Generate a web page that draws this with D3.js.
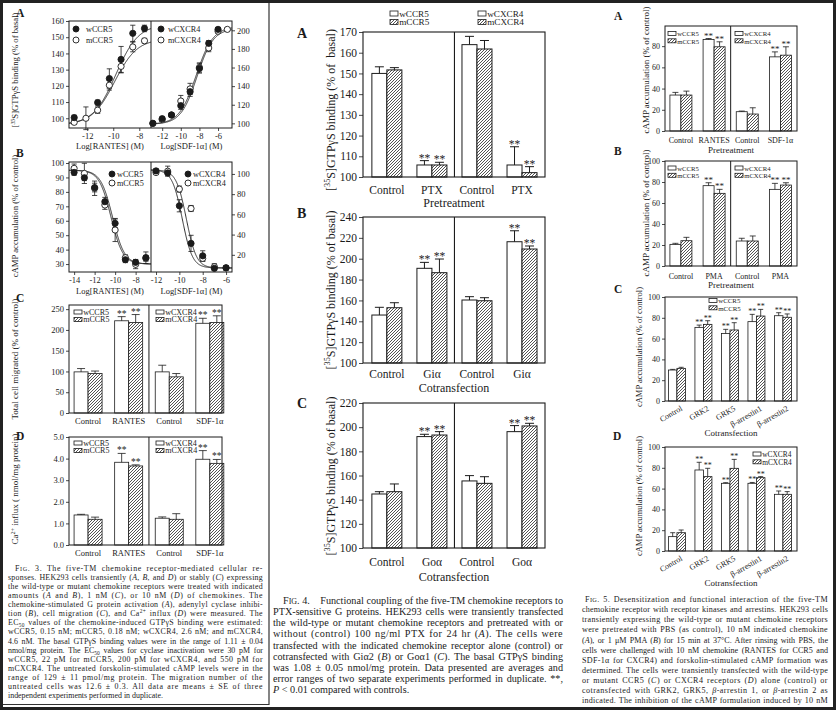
<!DOCTYPE html>
<html><head><meta charset="utf-8">
<script src="https://cdn.jsdelivr.net/npm/d3@7"></script>
<style>
body{margin:0;background:#fff}
svg{display:block}
text{font-family:"Liberation Serif","Times New Roman",serif;fill:#1b1b1b}
</style></head>
<body><svg id="c" width="836" height="710"></svg>
<script>
// ================= DATA =================
// Fig 3A: GTPγS binding vs log[chemokine]
const f3A_rantesW_x = [-13, -11.2, -10.3, -9.4, -8.5, -7.6];
const f3A_rantesW_y = [100.4, 109.7, 124.5, 136.3, 152.4, 155.4];
const f3A_rantesW_e = [1.5, 1.5, 6, 8, 5, 2];
const f3A_rantesM_x = [-13, -12.1, -11.2, -10.3, -9.4, -8.5, -7.6];
const f3A_rantesM_y = [97.5, 100, 105, 120.4, 132, 144, 147.8];
const f3A_rantesM_e = [1, 7, 2, 3, 4, 3, 1.5];
const f3A_sdfW_x = [-13, -12, -11, -10, -9, -8, -7, -6];
const f3A_sdfW_y = [100, 105, 109, 119, 134, 159, 186, 201];
const f3A_sdfW_e = [1, 1.5, 2, 4, 5, 5, 3, 2];
const f3A_sdfM_x = [-13, -12, -11, -10, -9, -8, -7, -6, -5];
const f3A_sdfM_y = [100, 104, 109, 124, 137, 160, 181, 199, 201];
const f3A_sdfM_e = [1, 2, 2, 6, 6, 5, 4, 2, 2];
// fitted curve parameters [bottom, top, logEC50, hill]
const f3A_fitRantesW = [96, 158, -9.8, 0.5];
const f3A_fitRantesM = [96, 149, -9.9, 0.5];
const f3A_fitSdfW = [99, 204, -8.35, 0.48];
const f3A_fitSdfM = [99, 202, -8.25, 0.5];

// Fig 3B: cAMP accumulation vs log[chemokine]
const f3B_rantesW_x = [-14, -13, -12, -11, -10, -9, -8, -7];
const f3B_rantesW_y = [93.5, 89.8, 83, 73.2, 58.2, 33, 31.2, 34.4];
const f3B_rantesW_e = [2, 2, 3, 3, 3, 2, 2, 4];
const f3B_rantesM_x = [-14, -13, -12, -11, -10, -9, -8, -7];
const f3B_rantesM_y = [96.3, 92.8, 82.5, 70.9, 53.6, 34.4, 29.8, 34];
const f3B_rantesM_e = [3, 7, 5, 3, 8, 2, 3, 2];
const f3B_sdfW_x = [-12, -11, -10, -9, -8, -7, -6];
const f3B_sdfW_y = [103, 101, 68.5, 31.3, 19, 6.6, 7];
const f3B_sdfW_e = [2, 2, 6, 8, 5, 2, 2];
const f3B_sdfM_x = [-12, -11, -10, -9, -8, -7, -6];
const f3B_sdfM_y = [101.4, 102.7, 85, 65.8, 16.5, 8.2, 7.2];
const f3B_sdfM_e = [2, 5, 3, 3, 3, 3, 2];
const f3B_fitRantesW = [30, 95, -10.25, -0.75];
const f3B_fitRantesM = [30, 95, -10.4, -0.75];
const f3B_fitSdfW = [7, 104, -9.75, -1.0];
const f3B_fitSdfM = [7, 104, -9.4, -1.0];

// Fig 3C / 3D
const f3C_cats = ["Control", "RANTES", "Control", "SDF-1α"];
const f3C_w = [99, 222, 99, 216], f3C_wErr = [8, 10, 16, 12];
const f3C_m = [95, 218, 87, 218], f3C_mErr = [6, 19, 8, 16];
const f3D_w = [1.39, 3.83, 1.24, 3.97], f3D_wErr = [0.03, 0.41, 0.06, 0.4];
const f3D_m = [1.19, 3.66, 1.19, 3.78], f3D_mErr = [0.1, 0.05, 0.26, 0.18];
const f3_sig = ["", "**", "", "**"];

// Fig 4
const f4A_cats = ["Control", "PTX", "Control", "PTX"];
const f4A_w = [150, 105.8, 163.9, 105.8], f4A_wErr = [3.2, 2.1, 4, 8.8];
const f4A_m = [151.7, 105.8, 161.8, 102.1], f4A_mErr = [1.1, 1.3, 4.1, 2.9];
const f4A_sig = ["", "**", "", "**"];
const f4B_cats = ["Control", "Giα", "Control", "Giα"];
const f4B_w = [146, 190.8, 160.4, 216.3], f4B_wErr = [7.4, 5.7, 3.2, 10.5];
const f4B_m = [153, 186.6, 159.7, 209.3], f4B_mErr = [4.8, 13.1, 2.9, 2.9];
const f4C_cats = ["Control", "Goα", "Control", "Goα"];
const f4C_w = [144.7, 192.2, 155.5, 196.3], f4C_wErr = [1.9, 1.9, 4.4, 5];
const f4C_m = [146.6, 193.5, 153.5, 201], f4C_mErr = [6.4, 2.8, 5.5, 2.2];

// Fig 5
const f5A_cats = ["Control", "RANTES", "Control", "SDF-1α"];
const f5A_w = [33.9, 86.3, 18.2, 69.9], f5A_wErr = [2.5, 0.9, 0.6, 4.7];
const f5A_m = [33.9, 79.4, 16, 71.5], f5A_mErr = [3.7, 4.7, 5.9, 7.9];
const f5B_cats = ["Control", "PMA", "Control", "PMA"];
const f5B_w = [20.6, 76.5, 23.8, 73], f5B_wErr = [1, 2.8, 2.6, 5.7];
const f5B_m = [24.1, 69.2, 23.8, 77.1], f5B_mErr = [3.2, 3.8, 4.8, 2.2];
const f5_sig4 = ["", "**", "", "**"];
const f5C_cats = ["Control", "GRK2", "GRK5", "β-arrestin1", "β-arrestin2"];
const f5C_w = [29.8, 70.8, 65, 76.3, 82], f5C_wErr = [0.6, 2.2, 3.9, 7, 2.9];
const f5C_m = [31.4, 73.7, 68.3, 81.7, 80.5], f5C_mErr = [1, 3.5, 7, 6.4, 3.2];
const f5D_w = [13.8, 77.9, 65.1, 65.1, 54.5], f5D_wErr = [3.8, 7.4, 0.6, 0.8, 3.2];
const f5D_m = [17.6, 71.5, 79.5, 70.5, 54.5], f5D_mErr = [2.6, 8, 8.6, 1, 2.6];
const f5_sig5 = ["", "**", "**", "**", "**"];

const legCCR5 = ["wCCR5", "mCCR5"];
const legCXCR4 = ["wCXCR4", "mCXCR4"];

// captions
const cap3 = [
 "F{sc:IG}. 3. The five-TM chemokine receptor-mediated cellular re-",
 "sponses. HEK293 cells transiently ({i:A}, {i:B}, and {i:D}) or stably ({i:C}) expressing",
 "the wild-type or mutant chemokine receptors were treated with indicated",
 "amounts ({i:A} and {i:B}), 1 nM ({i:C}), or 10 nM ({i:D}) of chemokines. The",
 "chemokine-stimulated G protein activation ({i:A}), adenylyl cyclase inhibi-",
 "tion ({i:B}), cell migration ({i:C}), and Ca{sup:2+} influx ({i:D}) were measured. The",
 "EC{sub:50} values of the chemokine-induced GTPγS binding were estimated:",
 "wCCR5, 0.15 nM; mCCR5, 0.18 nM; wCXCR4, 2.6 nM; and mCXCR4,",
 "4.6 nM. The basal GTPγS binding values were in the range of 1.11 ± 0.04",
 "nmol/mg protein. The EC{sub:50} values for cyclase inactivation were 30 pM for",
 "wCCR5, 22 pM for mCCR5, 200 pM for wCXCR4, and 550 pM for",
 "mCXCR4. The untreated forskolin-stimulated cAMP levels were in the",
 "range of 129 ± 11 pmol/mg protein. The migration number of the",
 "untreated cells was 12.6 ± 0.3. All data are means ± SE of three",
 "independent experiments performed in duplicate."];
const cap4 = [
 "F{sc:IG}. 4.    Functional coupling of the five-TM chemokine receptors to",
 "PTX-sensitive G proteins. HEK293 cells were transiently transfected",
 "the wild-type or mutant chemokine receptors and pretreated with or",
 "without (control) 100 ng/ml PTX for 24 hr ({i:A}). The cells were",
 "transfected with the indicated chemokine receptor alone (control) or",
 "cotransfected with Giα2 ({i:B}) or Goα1 ({i:C}). The basal GTPγS binding",
 "was 1.08 ± 0.05 nmol/mg protein. Data presented are averages and",
 "error ranges of two separate experiments performed in duplicate. **,",
 "{i:P} < 0.01 compared with controls."];
const cap5 = [
 "F{sc:IG}. 5. Desensitization and functional interaction of the five-TM",
 "chemokine receptor with receptor kinases and arrestins. HEK293 cells",
 "transiently expressing the wild-type or mutant chemokine receptors",
 "were pretreated with PBS (as control), 10 nM indicated chemokine",
 "({i:A}), or 1 μM PMA ({i:B}) for 15 min at 37°C. After rinsing with PBS, the",
 "cells were challenged with 10 nM chemokine (RANTES for CCR5 and",
 "SDF-1α for CXCR4) and forskolin-stimulated cAMP formation was",
 "determined. The cells were transiently transfected with the wild-type",
 "or mutant CCR5 ({i:C}) or CXCR4 receptors ({i:D}) alone (control) or",
 "cotransfected with GRK2, GRK5, {i:β}-arrestin 1, or {i:β}-arrestin 2 as",
 "indicated. The inhibition of the cAMP formulation induced by 10 nM"];

// ================= DRAWING =================
const INK = "#1b1b1b";
const svg = d3.select("#c");
svg.append("rect").attr("width", 836).attr("height", 710).attr("fill", "#fff");
const defs = svg.append("defs");
const pat = defs.append("pattern").attr("id", "hatch").attr("patternUnits", "userSpaceOnUse")
  .attr("width", 3).attr("height", 3);
pat.append("rect").attr("width", 3).attr("height", 3).attr("fill", "#fff");
pat.append("path").attr("d", "M-0.75,0.75 L0.75,-0.75 M0,3 L3,0 M2.25,3.75 L3.75,2.25")
  .attr("stroke", INK).attr("stroke-width", 0.75);

function rich(sel, str, size) {
  const re = /\{(i|sup|sub|sc):([^}]*)\}/g;
  let last = 0, m; const parts = [];
  while ((m = re.exec(str))) {
    if (m.index > last) parts.push({ t: "n", s: str.slice(last, m.index) });
    parts.push({ t: m[1], s: m[2] }); last = re.lastIndex;
  }
  if (last < str.length) parts.push({ t: "n", s: str.slice(last) });
  let cur = 0;
  parts.forEach(p => {
    const ts = sel.append("tspan").text(p.s);
    let target = 0;
    if (p.t === "sup") { target = -0.38 * size; ts.attr("font-size", size * 0.68); }
    else if (p.t === "sub") { target = 0.25 * size; ts.attr("font-size", size * 0.68); }
    else if (p.t === "sc") ts.attr("font-size", size * 0.78);
    else if (p.t === "i") ts.attr("font-style", "italic");
    if (target !== cur) { ts.attr("dy", target - cur); cur = target; }
  });
}
function T(g, x, y, str, size, o = {}) {
  const t = g.append("text").attr("x", x).attr("y", y).attr("font-size", size).style("white-space", "pre");
  if (o.anchor) t.attr("text-anchor", o.anchor);
  if (o.weight) t.attr("font-weight", o.weight);
  if (o.rotate != null) t.attr("transform", `rotate(${o.rotate},${x},${y})`);
  rich(t, str, size);
  return t;
}
function styleAxis(a, font) {
  a.attr("font-size", font).attr("font-family", null);
  a.select(".domain").remove();
  a.selectAll("line").attr("stroke", INK).attr("stroke-width", 0.8);
  a.selectAll("text").attr("fill", INK);
}
function hill(p, x) { return p[0] + (p[1] - p[0]) / (1 + Math.pow(10, (p[2] - x) * p[3])); }

let clipN = 0;
function curveSub(c) {
  const g = svg.append("g");
  const x = d3.scaleLinear().domain(c.xDomain).range([c.x0, c.x1]);
  const y = d3.scaleLinear().domain(c.yDomain).range([c.y1, c.y0]);
  const id = "clip" + (clipN++);
  defs.append("clipPath").attr("id", id).append("rect")
    .attr("x", c.x0).attr("y", c.y0).attr("width", c.x1 - c.x0).attr("height", c.y1 - c.y0);
  const grid = d3.range(c.xDomain[0], c.xDomain[1] + 0.02, 0.02);
  c.fits.forEach(p => g.append("path")
    .attr("d", d3.line().x(v => x(v)).y(v => y(hill(p, v)))(grid))
    .attr("fill", "none").attr("stroke", INK).attr("stroke-width", 0.9).attr("clip-path", `url(#${id})`));
  c.series.forEach(S => S.x.forEach((xv, i) => {
    const cx = x(xv), lo = y(S.y[i] - S.e[i]), hi = y(S.y[i] + S.e[i]);
    g.append("line").attr("x1", cx).attr("x2", cx).attr("y1", lo).attr("y2", hi).attr("stroke", INK).attr("stroke-width", 0.8);
    [lo, hi].forEach(yy => g.append("line").attr("x1", cx - 2.6).attr("x2", cx + 2.6).attr("y1", yy).attr("y2", yy).attr("stroke", INK).attr("stroke-width", 0.8));
  }));
  c.series.forEach(S => S.x.forEach((xv, i) => g.append("circle")
    .attr("cx", x(xv)).attr("cy", y(S.y[i])).attr("r", 3.1)
    .attr("fill", S.filled ? INK : "#fff").attr("stroke", INK).attr("stroke-width", 0.9)));
  const ya = (c.side === "left" ? d3.axisLeft(y) : d3.axisRight(y)).tickValues(c.yTicks).tickSize(3).tickPadding(2);
  styleAxis(g.append("g").attr("transform", `translate(${c.side === "left" ? c.x0 : c.x1},0)`).call(ya), 8.5);
  const xa = d3.axisBottom(x).tickValues(c.xTicks).tickFormat(d => String(d)).tickSize(3).tickPadding(2);
  styleAxis(g.append("g").attr("transform", `translate(0,${c.y1})`).call(xa), 8.5);
  T(g, (c.x0 + c.x1) / 2, c.y1 + c.xTitleDy, c.xTitle, 8.5, { anchor: "middle" });
  c.legend.labels.forEach((s, i) => {
    const L = c.legend;
    g.append("circle").attr("cx", L.x).attr("cy", L.y + i * L.dy).attr("r", 3)
      .attr("fill", i === 0 ? INK : "#fff").attr("stroke", INK).attr("stroke-width", 0.9);
    T(g, L.x + L.gap, L.y + i * L.dy + 3, s, 8.2);
  });
}
function frame(x0, y0, x1, y1, xd, w) {
  svg.append("rect").attr("x", x0).attr("y", y0).attr("width", x1 - x0).attr("height", y1 - y0)
    .attr("fill", "none").attr("stroke", INK).attr("stroke-width", w);
  if (xd) svg.append("line").attr("x1", xd).attr("x2", xd).attr("y1", y0).attr("y2", y1).attr("stroke", INK).attr("stroke-width", w);
}

function legendBoxes(g, L) {
  L.labels.forEach((s, i) => {
    const by = L.y + i * L.dy;
    g.append("rect").attr("x", L.x).attr("y", by).attr("width", L.bw).attr("height", L.bh)
      .attr("fill", i === 0 ? "#fff" : "url(#hatch)").attr("stroke", INK).attr("stroke-width", 0.8);
    T(g, L.x + L.bw + 1.2, by + L.bh + 0.8, s, L.font);
  });
}

function barPanel(c) {
  const [x0, y0, x1, y1] = c.frame;
  const g = svg.append("g");
  const y = d3.scaleLinear().domain(c.yDomain).range([y1, y0]);
  const n = c.cats.length;
  const step = (x1 - x0) / (n - 1 + c.padL + c.padR);
  const x = d3.scalePoint().domain(d3.range(n)).range([x0 + c.padL * step, x1 - c.padR * step]);
  const series = [
    { v: c.w, e: c.we, s: c.sig, off: -c.bw, fill: "#fff" },
    { v: c.m, e: c.me, s: c.sig, off: 0, fill: "url(#hatch)" }];
  series.forEach(S => S.v.forEach((v, i) => {
    const bx = x(i) + S.off, cx = bx + c.bw / 2, top = y(v), et = y(v + S.e[i]);
    g.append("rect").attr("x", bx).attr("y", top).attr("width", c.bw).attr("height", y1 - top)
      .attr("fill", S.fill).attr("stroke", INK).attr("stroke-width", c.lw);
    g.append("line").attr("x1", cx).attr("x2", cx).attr("y1", top).attr("y2", et).attr("stroke", INK).attr("stroke-width", c.lw);
    g.append("line").attr("x1", cx - c.cap / 2).attr("x2", cx + c.cap / 2).attr("y1", et).attr("y2", et).attr("stroke", INK).attr("stroke-width", c.lw);
    if (S.s[i]) T(g, cx, et - c.starGap, S.s[i], c.starSize, { anchor: "middle" });
  }));
  g.append("rect").attr("x", x0).attr("y", y0).attr("width", x1 - x0).attr("height", y1 - y0)
    .attr("fill", "none").attr("stroke", INK).attr("stroke-width", c.fw);
  if (c.divider) {
    const dx = (x(n / 2 - 1) + x(n / 2)) / 2;
    g.append("line").attr("x1", dx).attr("x2", dx).attr("y1", y0).attr("y2", y1).attr("stroke", INK).attr("stroke-width", c.fw);
  }
  styleAxis(g.append("g").attr("transform", `translate(${x0},0)`)
    .call(d3.axisLeft(y).tickValues(c.yTicks).tickSize(c.tick).tickPadding(2)), c.tickFont);
  c.cats.forEach((s, i) => {
    if (c.rotate) T(g, x(i) + c.rotDx, y1 + c.rotDy, s, c.catFont, { anchor: "end", rotate: c.rotate });
    else T(g, x(i), y1 + c.catDy, s, c.catFont, { anchor: "middle" });
  });
  if (c.xTitle) T(g, (x0 + x1) / 2, y1 + c.xTitleDy, c.xTitle, c.xTitleFont, { anchor: "middle" });
  if (c.yTitle) T(g, c.yTitleX, c.yTitleY, c.yTitle, c.yTitleFont, { anchor: "middle", rotate: -90 });
  (c.legends || []).forEach(L => legendBoxes(g, L));
}

// ---------- Figure 3 (left column) ----------
T(svg, 16, 17, "A", 11.5, { weight: "bold" });
curveSub({ x0: 69, x1: 151, y0: 21, y1: 128, xDomain: [-13.4, -7.1], yDomain: [94, 160],
  yTicks: d3.range(100, 161, 10), xTicks: [-12, -10, -8], side: "left",
  fits: [f3A_fitRantesW, f3A_fitRantesM],
  series: [{ x: f3A_rantesM_x, y: f3A_rantesM_y, e: f3A_rantesM_e, filled: false },
           { x: f3A_rantesW_x, y: f3A_rantesW_y, e: f3A_rantesW_e, filled: true }],
  xTitle: "Log[RANTES] (M)", xTitleDy: 21,
  legend: { x: 76, y: 29, dy: 11, gap: 10, labels: legCCR5 } });
curveSub({ x0: 151, x1: 232, y0: 21, y1: 128, xDomain: [-13.2, -4.5], yDomain: [95, 210],
  yTicks: d3.range(100, 201, 20), xTicks: [-12, -10, -8, -6], side: "right",
  fits: [f3A_fitSdfW, f3A_fitSdfM],
  series: [{ x: f3A_sdfM_x, y: f3A_sdfM_y, e: f3A_sdfM_e, filled: false },
           { x: f3A_sdfW_x, y: f3A_sdfW_y, e: f3A_sdfW_e, filled: true }],
  xTitle: "Log[SDF-1α] (M)", xTitleDy: 21,
  legend: { x: 161, y: 29, dy: 11, gap: 7, labels: legCXCR4 } });
frame(69, 21, 232, 128, 151, 1);
T(svg, 18, 70, "[{sup:35}S]GTPγS binding (% of basal)", 8.7, { anchor: "middle", rotate: -90 });

T(svg, 16, 157, "B", 11.5, { weight: "bold" });
curveSub({ x0: 69, x1: 151, y0: 162, y1: 272, xDomain: [-14.5, -6.5], yDomain: [24.5, 100.7],
  yTicks: d3.range(30, 101, 10), xTicks: [-14, -12, -10, -8], side: "left",
  fits: [f3B_fitRantesW, f3B_fitRantesM],
  series: [{ x: f3B_rantesM_x, y: f3B_rantesM_y, e: f3B_rantesM_e, filled: false },
           { x: f3B_rantesW_x, y: f3B_rantesW_y, e: f3B_rantesW_e, filled: true }],
  xTitle: "Log[RANTES] (M)", xTitleDy: 22,
  legend: { x: 112, y: 174, dy: 9, gap: 5, labels: legCCR5 } });
curveSub({ x0: 151, x1: 232, y0: 162, y1: 272, xDomain: [-12.43, -5.49], yDomain: [3, 111.8],
  yTicks: [20, 40, 60, 80, 100], xTicks: [-12, -10, -8, -6], side: "right",
  fits: [f3B_fitSdfW, f3B_fitSdfM],
  series: [{ x: f3B_sdfM_x, y: f3B_sdfM_y, e: f3B_sdfM_e, filled: false },
           { x: f3B_sdfW_x, y: f3B_sdfW_y, e: f3B_sdfW_e, filled: true }],
  xTitle: "Log[SDF-1α] (M)", xTitleDy: 22,
  legend: { x: 188, y: 174, dy: 9, gap: 5, labels: legCXCR4 } });
frame(69, 162, 232, 272, 151, 1);
T(svg, 18, 216, "cAMP accumulation (% of control)", 8.7, { anchor: "middle", rotate: -90 });

const leftBar = { padL: 0.47, padR: 0.3, bw: 14, lw: 0.8, fw: 1, cap: 8, starGap: 0, starSize: 9.5,
  divider: true, tick: 3, tickFont: 8.5, catFont: 8.5, catDy: 11, yTitleX: 18, yTitleFont: 9 };
T(svg, 16, 302, "C", 11.5, { weight: "bold" });
barPanel(Object.assign({}, leftBar, { frame: [69, 305, 222, 413], yDomain: [0, 260], yTicks: d3.range(0, 251, 50),
  cats: f3C_cats, w: f3C_w, we: f3C_wErr, m: f3C_m, me: f3C_mErr, sig: f3_sig,
  yTitle: "Total cell migrated (% of control)", yTitleY: 359,
  legends: [{ x: 74, y: 310, dy: 7.5, bw: 8, bh: 4, font: 8, labels: legCCR5 },
            { x: 156, y: 310, dy: 7.5, bw: 8, bh: 4, font: 8, labels: legCXCR4 }] }));
T(svg, 16, 440, "D", 11.5, { weight: "bold" });
barPanel(Object.assign({}, leftBar, { frame: [69, 437, 222, 545], yDomain: [0, 5], yTicks: d3.range(0, 6, 1),
  cats: f3C_cats, w: f3D_w, we: f3D_wErr, m: f3D_m, me: f3D_mErr, sig: f3_sig,
  yTitle: "Ca{sup:2+} influx ( nmol/mg protein)", yTitleY: 489,
  legends: [{ x: 74, y: 441, dy: 7.5, bw: 8, bh: 4, font: 8, labels: legCCR5 },
            { x: 156, y: 441, dy: 7.5, bw: 8, bh: 4, font: 8, labels: legCXCR4 }] }));

// ---------- Figure 4 (middle column) ----------
legendBoxes(svg, { x: 390, y: 11, dy: 8.5, bw: 8, bh: 5, font: 9.2, labels: legCCR5 });
legendBoxes(svg, { x: 478, y: 11, dy: 8.5, bw: 8, bh: 5, font: 9.2, labels: legCXCR4 });
const midBar = { padL: 0.53, padR: 0.51, bw: 15, lw: 1, fw: 1.1, cap: 9, starGap: -1, starSize: 11.5,
  divider: true, tick: 4, tickFont: 11.5, catFont: 11.5, xTitleFont: 12,
  yTitleX: 335, yTitleFont: 12 };
T(svg, 297, 38, "A", 14, { weight: "bold" });
barPanel(Object.assign({}, midBar, { frame: [363, 32, 545, 177], yDomain: [100, 170], yTicks: d3.range(100, 171, 10),
  cats: f4A_cats, w: f4A_w, we: f4A_wErr, m: f4A_m, me: f4A_mErr, sig: f4A_sig,
  catDy: 17, xTitle: "Pretreatment", xTitleDy: 30,
  yTitle: "[{sup:35}S]GTPγS binding (% of  basal)", yTitleY: 110 }));
T(svg, 297, 218, "B", 14, { weight: "bold" });
barPanel(Object.assign({}, midBar, { frame: [363, 217, 545, 363], yDomain: [100, 240], yTicks: d3.range(100, 241, 20),
  cats: f4B_cats, w: f4B_w, we: f4B_wErr, m: f4B_m, me: f4B_mErr, sig: f4A_sig,
  catDy: 15, xTitle: "Cotransfection", xTitleDy: 29,
  yTitle: "[{sup:35}S]GTPγS binding (% of basal)", yTitleY: 290 }));
T(svg, 297, 408, "C", 14, { weight: "bold" });
barPanel(Object.assign({}, midBar, { frame: [363, 403, 545, 548], yDomain: [100, 220], yTicks: d3.range(100, 221, 20),
  cats: f4C_cats, w: f4C_w, we: f4C_wErr, m: f4C_m, me: f4C_mErr, sig: f4A_sig,
  catDy: 17.5, xTitle: "Cotransfection", xTitleDy: 33,
  yTitle: "[{sup:35}S]GTPγS binding (% of basal)", yTitleY: 476 }));

// ---------- Figure 5 (right column) ----------
const rightBar = { lw: 0.8, fw: 1, starGap: 0, tick: 3, tickFont: 8, catFont: 8, xTitleFont: 9 };
T(svg, 614, 20, "A", 11.5, { weight: "bold" });
barPanel(Object.assign({}, rightBar, { frame: [665, 26, 797, 131], yDomain: [0, 99], yTicks: [0, 20, 40, 60, 80],
  padL: 0.48, padR: 0.5, bw: 11, cap: 6, starSize: 9, divider: true,
  cats: f5A_cats, w: f5A_w, we: f5A_wErr, m: f5A_m, me: f5A_mErr, sig: f5_sig4,
  catDy: 12, xTitle: "Pretreatment", xTitleDy: 22,
  yTitle: "cAMP accumulation (% of control)", yTitleX: 649, yTitleY: 70, yTitleFont: 9,
  legends: [{ x: 668, y: 31.5, dy: 7.3, bw: 8, bh: 4, font: 6.7, labels: legCCR5 },
            { x: 735, y: 31.5, dy: 7.3, bw: 8, bh: 4, font: 6.7, labels: legCXCR4 }] }));
T(svg, 614, 155, "B", 11.5, { weight: "bold" });
barPanel(Object.assign({}, rightBar, { frame: [665, 161, 797, 266], yDomain: [0, 100], yTicks: d3.range(0, 101, 20),
  padL: 0.48, padR: 0.5, bw: 11, cap: 6, starSize: 9, divider: true,
  cats: f5B_cats, w: f5B_w, we: f5B_wErr, m: f5B_m, me: f5B_mErr, sig: f5_sig4,
  catDy: 13, xTitle: "Pretreatment", xTitleDy: 22,
  yTitle: "cAMP accumulation (% of control)", yTitleX: 649, yTitleY: 213, yTitleFont: 9,
  legends: [{ x: 668, y: 166, dy: 7.3, bw: 8, bh: 4, font: 6.7, labels: legCCR5 },
            { x: 735, y: 166, dy: 7.3, bw: 8, bh: 4, font: 6.7, labels: legCXCR4 }] }));
T(svg, 614, 293, "C", 11.5, { weight: "bold" });
barPanel(Object.assign({}, rightBar, { frame: [665, 297, 797, 401], yDomain: [0, 100], yTicks: d3.range(0, 101, 20),
  padL: 0.45, padR: 0.53, bw: 8.5, cap: 5, starSize: 8, divider: false,
  cats: f5C_cats, w: f5C_w, we: f5C_wErr, m: f5C_m, me: f5C_mErr, sig: f5_sig5,
  rotate: -30, rotDx: 6, rotDy: 9, catFont: 8, xTitle: "Cotransfection", xTitleDy: 35,
  yTitle: "cAMP accumulation (% of control)", yTitleX: 642, yTitleY: 347, yTitleFont: 8.5,
  legends: [{ x: 709, y: 298.5, dy: 7.3, bw: 8, bh: 4, font: 6.9, labels: legCCR5 }] }));
T(svg, 613, 440, "D", 11.5, { weight: "bold" });
barPanel(Object.assign({}, rightBar, { frame: [665, 447, 797, 551], yDomain: [0, 100], yTicks: d3.range(0, 101, 20),
  padL: 0.45, padR: 0.53, bw: 8.5, cap: 5, starSize: 8, divider: false,
  cats: f5C_cats, w: f5D_w, we: f5D_wErr, m: f5D_m, me: f5D_mErr, sig: f5_sig5,
  rotate: -30, rotDx: 6, rotDy: 9, catFont: 8, xTitle: "Cotransfection", xTitleDy: 35,
  yTitle: "cAMP accumulation (% of control)", yTitleX: 642, yTitleY: 496, yTitleFont: 8.5,
  legends: [{ x: 753, y: 452, dy: 7.8, bw: 8, bh: 4, font: 7.4, labels: legCXCR4 }] }));

// ---------- captions ----------
function caption(lines, x0, x1, indent, y0, lh, size, justifyAll) {
  lines.forEach((ln, i) => {
    const xs = x0 + (i === 0 ? indent : 0);
    const t = T(svg, xs, y0 + i * lh, ln, size);
    t.attr("fill", "#222");
    if (i < lines.length - 1 || justifyAll) {
      const nat = t.node().getComputedTextLength();
      const target = x1 - xs;
      const spaces = (ln.match(/ /g) || []).length;
      const chars = t.text().length;
      const extra = target - nat;
      if (extra > 0 && spaces) {
        const perSpace = extra / spaces;
        if (perSpace > 2) {
          t.attr("letter-spacing", (extra * 0.7) / chars);
          t.attr("word-spacing", (extra * 0.3) / spaces);
        } else t.attr("word-spacing", perSpace);
      } else if (extra < 0) t.attr("textLength", target).attr("lengthAdjust", "spacingAndGlyphs");
    }
  });
}
caption(cap3, 8, 263, 7, 571, 9.07, 7.9, false);
caption(cap4, 273, 563, 10, 604, 11.16, 10.2, false);
caption(cap5, 582, 828, 3, 602, 10.14, 8.1, true);

// ---------- page borders ----------
svg.append("line").attr("x1", 269).attr("x2", 269).attr("y1", 0).attr("y2", 705).attr("stroke", "#333").attr("stroke-width", 1.2);
svg.append("line").attr("x1", 0).attr("x2", 269).attr("y1", 704.5).attr("y2", 704.5).attr("stroke", "#333").attr("stroke-width", 1.2);
svg.append("rect").attr("x", 1.5).attr("y", 1.5).attr("width", 833).attr("height", 707)
  .attr("fill", "none").attr("stroke", "#222").attr("stroke-width", 3);
</script></body></html>
